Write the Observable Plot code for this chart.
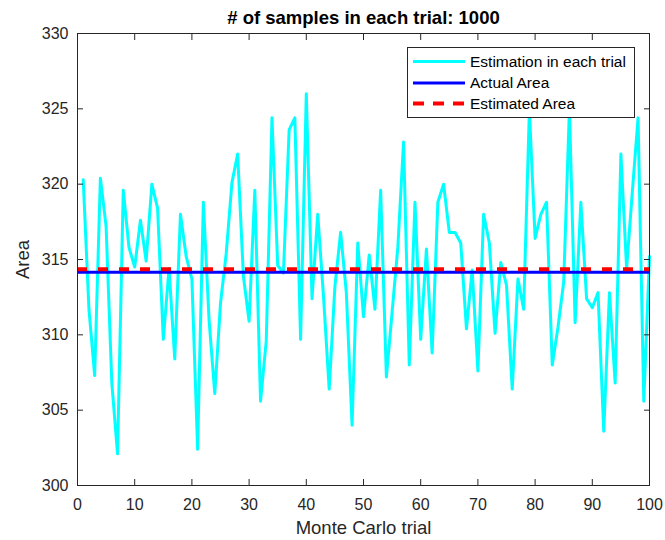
<!DOCTYPE html>
<html>
<head>
<meta charset="utf-8">
<script src="https://cdn.jsdelivr.net/npm/d3@7"></script>
<script src="https://cdn.jsdelivr.net/npm/@observablehq/plot@0.6"></script>
<style>
  body { margin: 0; background: #fff; }
  #chart svg { display: block; }
</style>
</head>
<body>
<div id="chart"></div>
<script>
// ---- data ----
const trials = d3.range(1, 101);
const estimates = [
  320.3, 311.7, 307.3, 320.4, 317.2, 306.8, 302.1, 319.6, 315.8, 314.5,
  317.6, 314.9, 320.0, 318.4, 309.7, 314.4, 308.4, 318.0, 315.2, 313.7,
  302.4, 318.8, 311.0, 306.1, 312.1, 315.4, 320.1, 322.0, 313.9, 310.9,
  319.6, 305.6, 309.6, 324.4, 314.6, 314.1, 323.6, 324.4, 309.7, 326.0,
  312.4, 318.0, 312.6, 306.4, 313.2, 316.8, 312.8, 304.0, 316.1, 311.2,
  315.3, 311.7, 319.6, 307.2, 311.5, 315.8, 322.8, 308.0, 318.8, 309.7,
  315.7, 308.8, 318.8, 320.0, 316.8, 316.8, 316.1, 310.4, 314.3, 307.6,
  318.0, 316.1, 310.1, 314.8, 313.3, 306.4, 313.7, 311.7, 324.9, 316.4,
  318.0, 318.8, 308.0, 310.5, 313.5, 325.0, 310.8, 318.8, 312.4, 311.8,
  312.8, 303.6, 312.8, 306.8, 322.0, 314.4, 319.5, 324.4, 305.6, 315.2
];
const actualArea = 314.159;
const estimatedArea = 314.35;
const xTicks = [0, 10, 20, 30, 40, 50, 60, 70, 80, 90, 100];
const yTicks = [300, 305, 310, 315, 320, 325, 330];
const seriesNames = ["Estimation in each trial", "Actual Area", "Estimated Area"];
const seriesColors = ["#00ffff", "#0000ff", "#ff0000"];
const titleText = "# of samples in each trial: 1000";
const xLabel = "Monte Carlo trial";
const yLabel = "Area";

const trialData = trials.map((t, i) => ({trial: t, area: estimates[i]}));

const font = "'Liberation Sans', Arial, sans-serif";
const axisColor = "#262626";

const plot = Plot.plot({
  width: 665,
  height: 540,
  marginLeft: 77,
  marginRight: 16,
  marginTop: 33,
  marginBottom: 55,
  style: {fontFamily: font, fontSize: "16px", background: "#fff", color: axisColor, overflow: "visible"},
  x: {domain: [0, 100]},
  y: {domain: [300, 330]},
  marks: [
    Plot.lineY(trialData, {x: "trial", y: "area", stroke: seriesColors[0], strokeWidth: 3}),
    Plot.ruleY([actualArea], {stroke: seriesColors[1], strokeWidth: 3}),
    Plot.ruleY([estimatedArea], {stroke: seriesColors[2], strokeWidth: 4, strokeDasharray: "10,11"}),
    Plot.frame({stroke: axisColor, strokeWidth: 1}),
    // inward ticks on all four sides (no text)
    Plot.axisX(xTicks, {anchor: "bottom", tickSize: -6, fill: "none", label: null, stroke: axisColor}),
    Plot.axisX(xTicks, {anchor: "top", tickSize: -6, fill: "none", label: null, stroke: axisColor}),
    Plot.axisY(yTicks, {anchor: "left", tickSize: -6, fill: "none", label: null, stroke: axisColor}),
    Plot.axisY(yTicks, {anchor: "right", tickSize: -6, fill: "none", label: null, stroke: axisColor}),
    // tick labels
    Plot.axisX(xTicks, {anchor: "bottom", tickSize: 0, tickPadding: 13, label: null, fill: axisColor, fontSize: 16}),
    Plot.axisY(yTicks, {anchor: "left", tickSize: 0, tickPadding: 9, label: null, fill: axisColor, fontSize: 16}),
    // axis labels and title
    Plot.text([xLabel], {frameAnchor: "bottom", dy: 43, lineAnchor: "middle", textAnchor: "middle", text: d => d, fontSize: 18.5, fill: axisColor}),
    Plot.text([yLabel], {frameAnchor: "left", dx: -54, rotate: -90, lineAnchor: "middle", textAnchor: "middle", text: d => d, fontSize: 18.5, fill: axisColor}),
    Plot.text([titleText], {frameAnchor: "top", dy: -15, lineAnchor: "middle", textAnchor: "middle", text: d => d, fontSize: 18.5, fontWeight: "bold", fill: "#000"})
  ]
});

document.getElementById("chart").appendChild(plot);

// ---- legend (inside the plot, top right) ----
const svg = d3.select(plot);
const lg = svg.append("g").attr("font-family", font).attr("font-size", 15.5).attr("text-anchor", "start");
const box = {x: 407, y: 47, w: 227, h: 70};
lg.append("rect").attr("x", box.x + 0.5).attr("y", box.y + 0.5).attr("width", box.w).attr("height", box.h)
  .attr("fill", "#fff").attr("stroke", axisColor).attr("stroke-width", 1);
const rowY = [61.5, 83, 103.5];
const styles = [
  {w: 3, dash: null},
  {w: 3, dash: null},
  {w: 4, dash: "11,9"}
];
seriesNames.forEach((name, i) => {
  lg.append("line").attr("x1", box.x + 6).attr("x2", box.x + 58)
    .attr("y1", rowY[i]).attr("y2", rowY[i])
    .attr("stroke", seriesColors[i]).attr("stroke-width", styles[i].w)
    .attr("stroke-dasharray", styles[i].dash);
  lg.append("text").attr("x", box.x + 63).attr("y", rowY[i]).attr("dy", "0.35em")
    .attr("text-anchor", "start").attr("fill", "#000").text(name);
});
</script>
</body>
</html>
